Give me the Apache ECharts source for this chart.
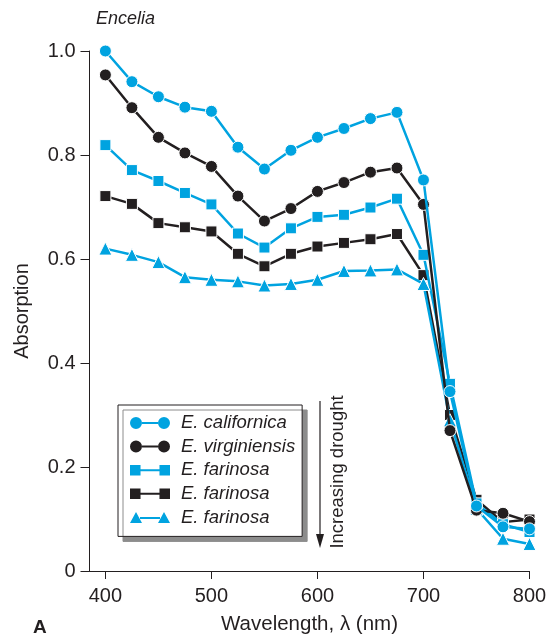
<!DOCTYPE html>
<html><head><meta charset="utf-8">
<script src="https://cdn.jsdelivr.net/npm/echarts@6/dist/echarts.min.js"></script>
<style>html,body{margin:0;padding:0;background:#fff}#c{width:550px;height:640px}</style>
</head><body><div id="c"></div>
<script>
const wavelengths = [400,425,450,475,500,525,550,575,600,625,650,675,700,725,750,775,800];
const californica  = [1.000,0.941,0.912,0.892,0.884,0.815,0.773,0.809,0.834,0.851,0.870,0.882,0.752,0.345,0.125,0.085,0.081];
const virginiensis = [0.954,0.891,0.834,0.804,0.778,0.721,0.673,0.697,0.730,0.747,0.767,0.775,0.705,0.270,0.117,0.111,0.095];
const farinosa1    = [0.819,0.771,0.750,0.727,0.705,0.649,0.622,0.659,0.681,0.685,0.699,0.716,0.608,0.360,0.130,0.090,0.075];
const farinosa2    = [0.721,0.706,0.669,0.661,0.653,0.610,0.586,0.610,0.624,0.631,0.638,0.648,0.569,0.300,0.137,0.094,0.099];
const farinosa3    = [0.620,0.608,0.594,0.565,0.560,0.557,0.549,0.552,0.560,0.577,0.578,0.580,0.552,0.290,0.120,0.062,0.052];
const seriesNames  = ['E. californica','E. virginiensis','E. farinosa ','E. farinosa  ','E. farinosa   '];
const xTicks = [400,500,600,700,800];

const CYAN = '#00a3e0', BLACK = '#231f20', TXT = '#231f20';
const FONT = 'Liberation Sans, Arial, sans-serif';

const iconCircle = 'path://M0,6A6,6 0 1,1 12,6A6,6 0 1,1 0,6ZM12,5L28,5L28,7L12,7ZM28,6A6,6 0 1,1 40,6A6,6 0 1,1 28,6Z';
const iconSquare = 'path://M1,1L11,1L11,11L1,11ZM11,5L29,5L29,7L11,7ZM29,1L39,1L39,11L29,11Z';
const iconTri = 'path://M0,12L6,1L12,12ZM10,6L30,6L30,8L10,8ZM28,12L34,1L40,12Z';

const defs = [
  {name: seriesNames[0], data: californica, color: CYAN, symbol: 'circle', size: 12, icon: iconCircle, z: 6},
  {name: seriesNames[1], data: virginiensis, color: BLACK, symbol: 'circle', size: 12, icon: iconCircle, z: 5},
  {name: seriesNames[2], data: farinosa1, color: CYAN, symbol: 'rect', size: 11, icon: iconSquare, z: 3},
  {name: seriesNames[3], data: farinosa2, color: BLACK, symbol: 'rect', size: 11, icon: iconSquare, z: 2},
  {name: seriesNames[4], data: farinosa3, color: CYAN, symbol: 'triangle', size: 13, icon: iconTri, z: 4}
];

const chart = echarts.init(document.getElementById('c'), null, {renderer: 'canvas'});
chart.setOption({
  animation: false,
  backgroundColor: '#fff',
  textStyle: {fontFamily: FONT},
  grid: {left: 89.5, right: 20.5, top: 51, bottom: 66, containLabel: false},
  xAxis: {
    type: 'value', min: 385, max: 800,
    name: 'Wavelength, \u03bb (nm)', nameLocation: 'middle', nameGap: 43,
    nameTextStyle: {fontSize: 20.5, color: TXT, fontFamily: FONT},
    axisLine: {lineStyle: {color: TXT, width: 1}},
    axisTick: {show: true, length: 8, lineStyle: {color: TXT}, customValues: xTicks},
    axisLabel: {fontSize: 20, color: TXT, margin: 15, fontFamily: FONT, customValues: xTicks},
    splitLine: {show: false}
  },
  yAxis: {
    type: 'value', min: 0, max: 1, interval: 0.2,
    name: 'Absorption', nameLocation: 'middle', nameGap: 57,
    nameTextStyle: {fontSize: 20, color: TXT, fontFamily: FONT},
    axisLine: {show: true, lineStyle: {color: TXT, width: 1}},
    axisTick: {show: true, length: 9, lineStyle: {color: TXT}},
    axisLabel: {fontSize: 20, color: TXT, margin: 14, fontFamily: FONT,
      formatter: v => v === 0 ? '0' : v.toFixed(1)},
    splitLine: {show: false}
  },
  legend: {
    orient: 'vertical', left: 118, top: 405,
    padding: [8, 7, 9, 12],
    itemWidth: 40, itemHeight: 12, itemGap: 3.6,
    backgroundColor: '#fff', borderColor: TXT, borderWidth: 1,
    shadowColor: '#8c8c8c', shadowOffsetX: 5, shadowOffsetY: 5, shadowBlur: 0,
    textStyle: {fontSize: 18.5, fontStyle: 'italic', color: TXT, fontFamily: FONT, lineHeight: 20, padding: [0,0,0,6]},
    data: defs.map(d => ({name: d.name, icon: d.icon, itemStyle: {color: d.color, borderWidth: 0}}))
  },
  graphic: [
    {type: 'text', left: 96, top: 10, style: {text: 'Encelia', font: 'italic 18px ' + FONT, fill: TXT}},
    {type: 'text', left: 33, top: 618, style: {text: 'A', font: 'bold 19px ' + FONT, fill: TXT}},
    {type: 'line', shape: {x1: 320, y1: 401, x2: 320, y2: 540}, style: {stroke: TXT, lineWidth: 1.2}},
    {type: 'polygon', shape: {points: [[316, 534], [324, 534], [320, 548]]}, style: {fill: TXT}},
    {type: 'text', x: 338, y: 472, rotation: Math.PI / 2,
      style: {text: 'Increasing drought', font: '18.5px ' + FONT, fill: TXT, align: 'center', verticalAlign: 'middle'}}
  ],
  series: defs.map(d => ({
    name: d.name, type: 'line', z: d.z,
    data: wavelengths.map((w, i) => [w, d.data[i]]),
    symbol: d.symbol, symbolSize: d.size,
    lineStyle: {color: d.color, width: 2.5},
    itemStyle: {color: d.color, borderColor: '#fff', borderWidth: 1},
    emphasis: {disabled: true}
  }))
});
</script></body></html>
